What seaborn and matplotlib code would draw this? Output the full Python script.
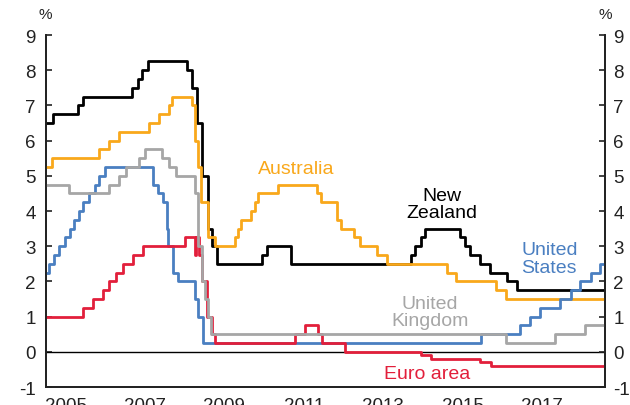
import datetime as dt
import numpy as np
import pandas as pd
import matplotlib
matplotlib.use("Agg")
import matplotlib.pyplot as plt
import seaborn as sns

# ---------------- data (policy rate change dates and levels, %) ----------------
END_DATE = "2019-01-31"

nz_dates = ["2005-01-01", "2005-03-10", "2005-10-27", "2005-12-08", "2007-03-08", "2007-04-26",
            "2007-06-07", "2007-07-26", "2008-07-24", "2008-09-11", "2008-10-23", "2008-12-04",
            "2009-01-29", "2009-03-12", "2009-04-30", "2010-06-10", "2010-07-29", "2011-03-10",
            "2014-03-13", "2014-04-24", "2014-06-12", "2014-07-24", "2015-06-11", "2015-07-23",
            "2015-09-10", "2015-12-10", "2016-03-10", "2016-08-11", "2016-11-10"]
nz_rates = [6.50, 6.75, 7.00, 7.25, 7.50, 7.75, 8.00, 8.25, 8.00, 7.50, 6.50, 5.00,
            3.50, 3.00, 2.50, 2.75, 3.00, 2.50, 2.75, 3.00, 3.25, 3.50, 3.25, 3.00,
            2.75, 2.50, 2.25, 2.00, 1.75]

au_dates = ["2005-01-01", "2005-03-02", "2006-05-03", "2006-08-02", "2006-11-08", "2007-08-08",
            "2007-11-07", "2008-02-06", "2008-03-05", "2008-09-03", "2008-10-08", "2008-11-05",
            "2008-12-03", "2009-02-04", "2009-04-08", "2009-10-07", "2009-11-04", "2009-12-02",
            "2010-03-03", "2010-04-07", "2010-05-05", "2010-11-03", "2011-11-02", "2011-12-07",
            "2012-05-02", "2012-06-06", "2012-10-03", "2012-12-05", "2013-05-08", "2013-08-07",
            "2015-02-04", "2015-05-06", "2016-05-04", "2016-08-03"]
au_rates = [5.25, 5.50, 5.75, 6.00, 6.25, 6.50, 6.75, 7.00, 7.25, 7.00, 6.00, 5.25,
            4.25, 3.25, 3.00, 3.25, 3.50, 3.75, 4.00, 4.25, 4.50, 4.75, 4.50, 4.25,
            3.75, 3.50, 3.25, 3.00, 2.75, 2.50, 2.25, 2.00, 1.75, 1.50]

us_dates = ["2005-01-01", "2005-02-02", "2005-03-22", "2005-05-03", "2005-06-30", "2005-08-09",
            "2005-09-20", "2005-11-01", "2005-12-13", "2006-01-31", "2006-03-28", "2006-05-10",
            "2006-06-29", "2007-09-18", "2007-10-31", "2007-12-11", "2008-01-22", "2008-01-30",
            "2008-03-18", "2008-04-30", "2008-10-08", "2008-10-29", "2008-12-16", "2015-12-16",
            "2016-12-14", "2017-03-15", "2017-06-14", "2017-12-13", "2018-03-21", "2018-06-13",
            "2018-09-26", "2018-12-19"]
us_rates = [2.25, 2.50, 2.75, 3.00, 3.25, 3.50, 3.75, 4.00, 4.25, 4.50, 4.75, 5.00,
            5.25, 4.75, 4.50, 4.25, 3.50, 3.00, 2.25, 2.00, 1.50, 1.00, 0.25, 0.50,
            0.75, 1.00, 1.25, 1.50, 1.75, 2.00, 2.25, 2.50]

uk_dates = ["2005-01-01", "2005-08-04", "2006-08-03", "2006-11-09", "2007-01-11", "2007-05-10",
            "2007-07-05", "2007-12-06", "2008-02-07", "2008-04-10", "2008-10-08", "2008-11-06",
            "2008-12-04", "2009-01-08", "2009-02-05", "2009-03-05", "2016-08-04", "2017-11-02",
            "2018-08-02"]
uk_rates = [4.75, 4.50, 4.75, 5.00, 5.25, 5.50, 5.75, 5.50, 5.25, 5.00, 4.50, 3.00,
            2.00, 1.50, 1.00, 0.50, 0.25, 0.50, 0.75]

eu_dates = ["2005-01-01", "2005-12-06", "2006-03-08", "2006-06-15", "2006-08-09", "2006-10-11",
            "2006-12-13", "2007-03-14", "2007-06-13", "2008-07-09", "2008-10-08", "2008-10-15",
            "2008-11-12", "2008-12-10", "2009-01-21", "2009-03-11", "2009-04-08", "2011-04-13",
            "2011-07-13", "2011-11-09", "2011-12-14", "2012-07-11", "2014-06-11", "2014-09-10",
            "2015-12-09", "2016-03-16"]
eu_rates = [1.00, 1.25, 1.50, 1.75, 2.00, 2.25, 2.50, 2.75, 3.00, 3.25, 2.75, 3.25,
            2.75, 2.00, 1.00, 0.50, 0.25, 0.50, 0.75, 0.50, 0.25, 0.00, -0.10, -0.20,
            -0.30, -0.40]

year_ticks = list(range(2005, 2020))
year_labels = ["2005", "2007", "2009", "2011", "2013", "2015", "2017"]
y_ticks = list(range(-1, 10))

# ---------------- helpers ----------------
def dec_year(s):
    d = dt.date.fromisoformat(s)
    start = dt.date(d.year, 1, 1)
    n = (dt.date(d.year + 1, 1, 1) - start).days
    return d.year + (d - start).days / n

def frame(dates, rates):
    x = [dec_year(s) for s in dates] + [dec_year(END_DATE)]
    y = list(rates) + [rates[-1]]
    return pd.DataFrame({"year": x, "rate": y})

series = [
    ("New Zealand", nz_dates, nz_rates, "#000000", 2),
    ("Australia", au_dates, au_rates, "#F9A81B", 3),
    ("United States", us_dates, us_rates, "#4A7FC1", 4),
    ("Euro area", eu_dates, eu_rates, "#E21F3B", 5),
    ("United Kingdom", uk_dates, uk_rates, "#A6A6A6", 6),
]

# ---------------- figure ----------------
sns.set_theme(style="white")
plt.rcParams["font.family"] = ["Liberation Sans", "DejaVu Sans"]

fig = plt.figure(figsize=(6.30, 4.06), dpi=100)
ax = fig.add_axes([0.0725, 0.0443, 0.8878, 0.867])

for name, dts, rts, col, z in series:
    df = frame(dts, rts)
    sns.lineplot(data=df, x="year", y="rate", ax=ax, color=col, linewidth=2.0,
                 drawstyle="steps-post", estimator=None, sort=False, zorder=z)

ax.axhline(0, color="black", linewidth=1.0, zorder=1)

x0, x1 = 2005.0, dec_year(END_DATE)
ax.set_xlim(x0, x1)
ax.set_ylim(-1, 9)
ax.set_xlabel("")
ax.set_ylabel("")

tfs = 13.5
ax.set_xticks(year_ticks)
ax.set_xticklabels([])
ax.set_xticks([int(l) + 0.5 for l in year_labels], minor=True)
ax.set_xticklabels(year_labels, minor=True)
ax.tick_params(axis="x", which="major", direction="in", length=4, width=1.2, color="#222222")
ax.tick_params(axis="x", which="minor", length=0, pad=7, labelsize=tfs, labelcolor="#222222")

ax.set_yticks(y_ticks)
ax.set_yticklabels([str(v) for v in y_ticks])
ax.tick_params(axis="y", direction="in", length=4, width=1.2, pad=7, labelsize=tfs,
               labelcolor="#222222", color="#222222", left=True)

ax2 = ax.twinx()
ax2.set_ylim(-1, 9)
ax2.set_yticks(y_ticks)
ax2.set_yticklabels([str(v) for v in y_ticks])
ax2.tick_params(axis="y", direction="in", length=4, width=1.2, pad=6, labelsize=tfs,
                labelcolor="#222222", color="#222222", right=True)
ax2.grid(False)
ax.grid(False)

for a in (ax, ax2):
    a.spines["top"].set_visible(False)
    for s in ("left", "right", "bottom"):
        a.spines[s].set_color("#222222")
        a.spines[s].set_linewidth(1.3)

ax.text(0.0, 1.04, "%", transform=ax.transAxes, ha="center", va="bottom",
        fontsize=11, color="#222222")
ax.text(1.0, 1.04, "%", transform=ax.transAxes, ha="center", va="bottom",
        fontsize=11, color="#222222")

fs = 14
ax.text(2011.30, 5.21, "Australia", color="#F9A81B", fontsize=fs, ha="center", va="center", zorder=10)
ax.text(2014.98, 4.20, "New\nZealand", color="#000000", fontsize=fs, ha="center", va="center",
        linespacing=1.05, zorder=10)
ax.text(2017.68, 2.66, "United\nStates", color="#4A7FC1", fontsize=fs, ha="center", va="center",
        linespacing=1.05, zorder=10)
ax.text(2014.68, 1.13, "United\nKingdom", color="#A6A6A6", fontsize=fs, ha="center", va="center",
        linespacing=1.05, zorder=10)
ax.text(2014.60, -0.61, "Euro area", color="#E21F3B", fontsize=fs, ha="center", va="center", zorder=10)

fig.savefig("out.png", dpi=100)
